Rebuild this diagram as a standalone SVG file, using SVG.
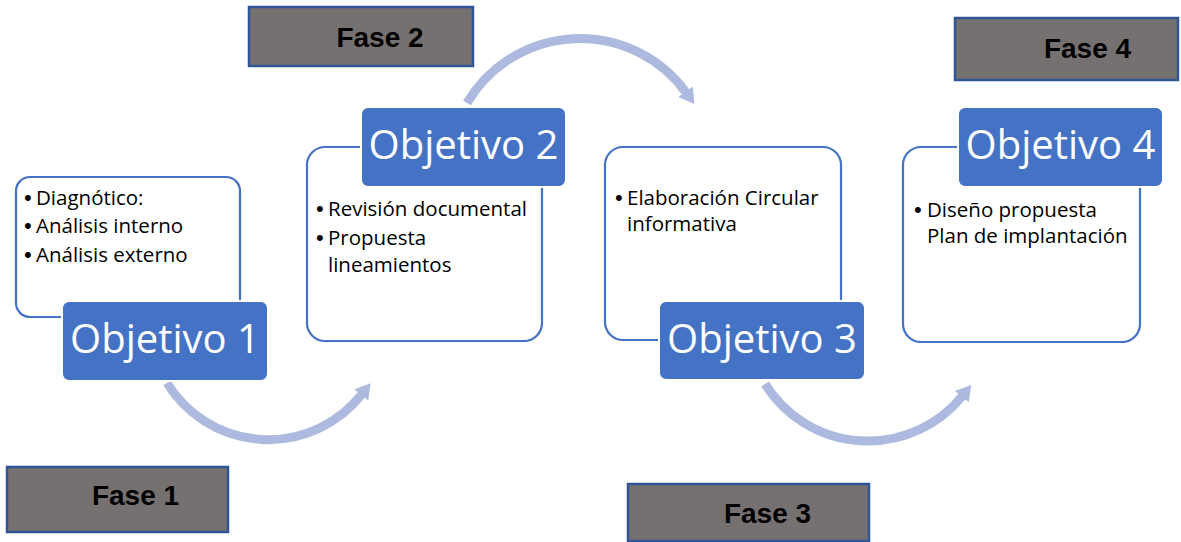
<svg xmlns="http://www.w3.org/2000/svg" width="1181" height="542" viewBox="0 0 1181 542">
<style>
.fase{fill:#767171;stroke:#2F5597;stroke-width:2.5}
.fasetxt{font-family:"Liberation Sans",Arial,sans-serif;font-weight:bold;font-size:28px;fill:#000;text-anchor:middle}
.card{fill:#fff;stroke:#4472C4;stroke-width:2.2}
.obj{fill:#4472C4;stroke:#fff;stroke-width:2}
.objtxt{font-family:"Open Sans",sans-serif;font-size:40px;fill:#fff;text-anchor:middle}
.body{font-family:"Open Sans",sans-serif;font-size:20.5px;fill:#000}
.bul{font-family:"Liberation Sans",Arial,sans-serif;font-size:22px;fill:#000}
.arc{fill:none;stroke:#ADB9DF;stroke-width:9}
</style>
<defs>
<marker id="ah" markerUnits="userSpaceOnUse" viewBox="0 0 16 20" markerWidth="16" markerHeight="20" refX="1" refY="10" orient="auto">
<path d="M0,1 L15,10 L0,19 Z" fill="#ADB9DF"/>
</marker>
</defs>
<g id="connectors">
<path class="arc" d="M167,383 A119,119 0 0 0 361.8,394.3" marker-end="url(#ah)"/>
<path class="arc" d="M467,103 A131.2,131.2 0 0 1 686.1,92.6" marker-end="url(#ah)"/>
<path class="arc" d="M765,384 A121.5,121.5 0 0 0 962.4,396" marker-end="url(#ah)"/>
</g>
<g id="fase1"><rect class="fase" x="7" y="467" width="221" height="65"/><text class="fasetxt" x="135.5" y="505">Fase 1</text></g>
<g id="fase2"><rect class="fase" x="249" y="7" width="224" height="59"/><text class="fasetxt" x="380" y="47">Fase 2</text></g>
<g id="fase3"><rect class="fase" x="628" y="484" width="241" height="57"/><text class="fasetxt" x="767.5" y="523">Fase 3</text></g>
<g id="fase4"><rect class="fase" x="955" y="18" width="223" height="62"/><text class="fasetxt" x="1087.5" y="58">Fase 4</text></g>
<g id="card1">
<rect class="card" x="16" y="177" width="224" height="140" rx="14"/>
<text class="bul" x="24" y="205">•</text><text class="body" x="36" y="205">Diagnótico:</text>
<text class="bul" x="24" y="233">•</text><text class="body" x="36" y="233">Análisis interno</text>
<text class="bul" x="24" y="262">•</text><text class="body" x="36" y="262">Análisis externo</text>
</g>
<g id="objetivo1"><rect class="obj" x="62" y="301" width="206" height="80" rx="7"/><text class="objtxt" x="165" y="353">Objetivo 1</text></g>
<g id="card2">
<rect class="card" x="307" y="147" width="235" height="194" rx="18"/>
<text class="bul" x="316" y="216">•</text><text class="body" x="328" y="216">Revisión documental</text>
<text class="bul" x="316" y="245">•</text><text class="body" x="328" y="245">Propuesta</text>
<text class="body" x="328" y="272">lineamientos</text>
</g>
<g id="objetivo2"><rect class="obj" x="361" y="107" width="205" height="80" rx="7"/><text class="objtxt" x="463.5" y="159">Objetivo 2</text></g>
<g id="card3">
<rect class="card" x="605" y="147" width="236" height="193" rx="18"/>
<text class="bul" x="615" y="205">•</text><text class="body" x="627" y="205">Elaboración Circular</text>
<text class="body" x="627" y="231">informativa</text>
</g>
<g id="objetivo3"><rect class="obj" x="659" y="301" width="206" height="79" rx="7"/><text class="objtxt" x="762" y="353">Objetivo 3</text></g>
<g id="card4">
<rect class="card" x="903" y="147" width="237" height="195" rx="18"/>
<text class="bul" x="914" y="217">•</text><text class="body" x="927" y="217">Diseño propuesta</text>
<text class="body" x="927" y="243">Plan de implantación</text>
</g>
<g id="objetivo4"><rect class="obj" x="958" y="107" width="205" height="80" rx="7"/><text class="objtxt" x="1060.5" y="159">Objetivo 4</text></g>
</svg>
